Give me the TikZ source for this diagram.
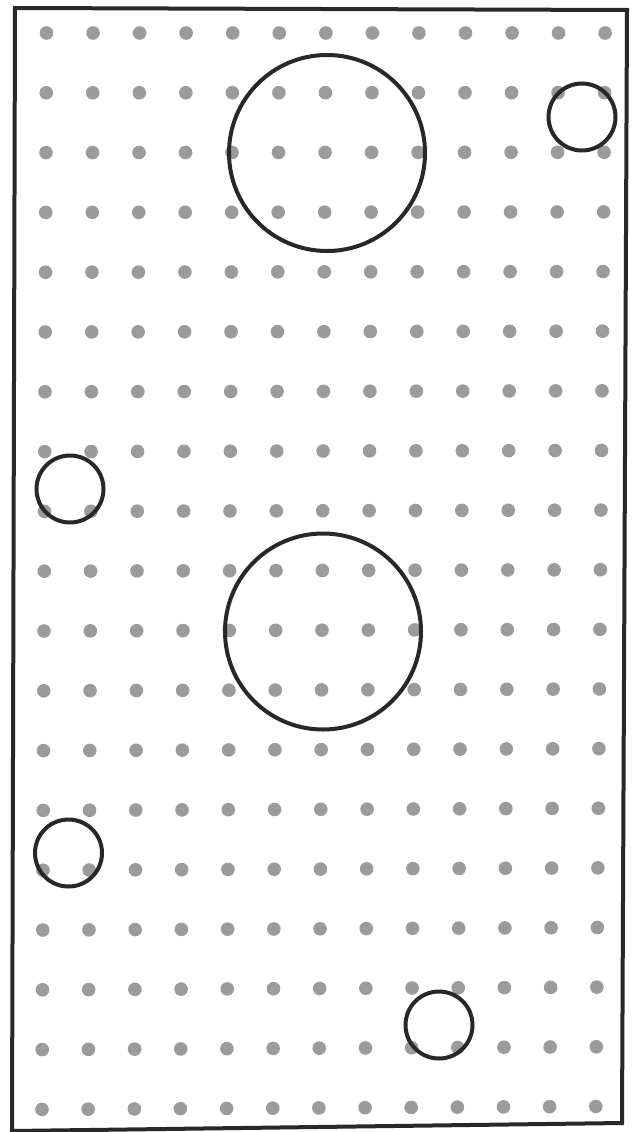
\documentclass[tikz,border=0pt]{standalone}
\definecolor{dotgray}{RGB}{155,155,155}
\definecolor{inkgray}{RGB}{40,40,40}
\tikzset{
  frameline/.style={draw=inkgray, line width=4pt, line join=miter},
  hole/.style={draw=inkgray, line width=4pt},
  peg/.style={fill=dotgray}
}
\begin{document}
\begin{tikzpicture}[x=1pt,y=-1pt]
\useasboundingbox (0,0) rectangle (637,1132);
\fill[white] (0,0) rectangle (637,1132);
% grid of dots
\foreach \j in {0,...,18}{
  \foreach \i in {0,...,12}{
    \fill[peg] ({46.5+46.55*\i-4.5*\j/18-0.4*\i*\j/18},{33+59.8*\j-3*\i/12*\j/18}) circle (6.8);
  }
}
% frame
\draw[frameline] (15,8) -- (627,10) -- (622,1123) -- (12,1131) -- cycle;
% circles
\draw[hole] (327,153) circle (98);
\draw[hole] (323,631.5) circle (98);
\draw[hole] (582,117) circle (33.5);
\draw[hole] (70,489) circle (33.5);
\draw[hole] (68.5,853) circle (33.5);
\draw[hole] (439,1025) circle (33.5);
\end{tikzpicture}
\end{document}
